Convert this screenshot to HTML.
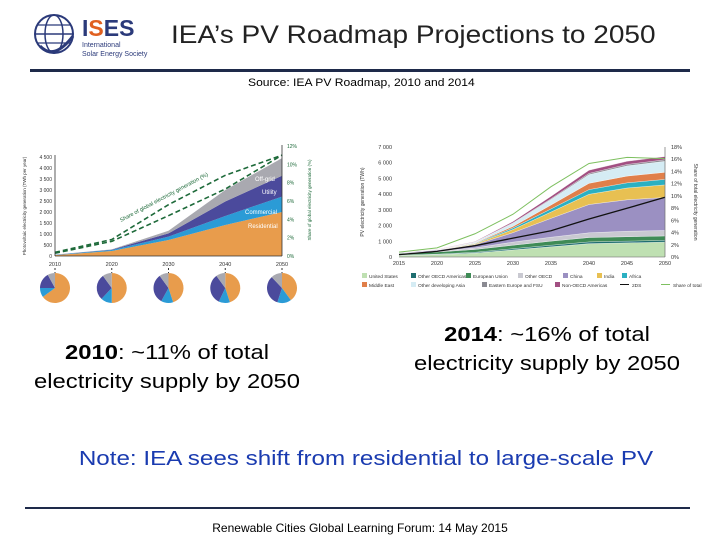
<!DOCTYPE html>
<html><head><meta charset="utf-8"><style>
body{margin:0;width:720px;height:540px;background:#fff;position:relative;overflow:hidden;font-family:"Liberation Sans",sans-serif}
.t{position:absolute;white-space:nowrap}
</style></head><body>
<svg width="150" height="60" style="position:absolute;left:28px;top:6px">
<circle cx="26" cy="28" r="19" fill="none" stroke="#2b3a7a" stroke-width="2"/>
<ellipse cx="26" cy="28" rx="9" ry="19" fill="none" stroke="#2b3a7a" stroke-width="1.5"/>
<line x1="7" y1="28" x2="45" y2="28" stroke="#2b3a7a" stroke-width="1.5"/>
<line x1="9" y1="19" x2="43" y2="19" stroke="#2b3a7a" stroke-width="1.2"/>
<line x1="9" y1="37" x2="43" y2="37" stroke="#2b3a7a" stroke-width="1.2"/>
<path d="M12 40 Q26 55 45 30" fill="none" stroke="#2b3a7a" stroke-width="3"/>
<text x="54" y="30" font-size="23" font-weight="bold" fill="#2b3a7a" font-family="Liberation Sans">I<tspan fill="#e06020">S</tspan>ES</text>
<text x="54" y="41" font-size="7" fill="#2b3a7a">International</text>
<text x="54" y="50" font-size="7" fill="#2b3a7a">Solar Energy Society</text>
</svg>
<div class="t" style="left:171px;top:21px;font-size:25px;color:#222;transform:scaleX(1.12);transform-origin:left">IEA’s PV Roadmap Projections to 2050</div>
<div style="position:absolute;left:30px;top:69px;width:660px;height:3px;background:#1e2a4a"></div>
<div class="t" style="left:248px;top:77px;font-size:11px;transform:scaleX(1.1);transform-origin:left">Source:  IEA PV Roadmap, 2010 and 2014</div>
<svg id="left" width="340" height="310" style="position:absolute;left:0;top:0"></svg>
<svg id="right" width="720" height="300" style="position:absolute;left:0;top:0"></svg>
<div class="t" style="left:0;width:334px;text-align:center;top:339px;font-size:20px;line-height:29px;transform:scaleX(1.19)"><b>2010</b>:  ~11% of total<br>electricity supply by 2050</div>
<div class="t" style="left:380px;width:334px;text-align:center;top:321px;font-size:20px;line-height:29px;transform:scaleX(1.19)"><b>2014</b>:  ~16% of total<br>electricity supply by 2050</div>
<div class="t" style="left:0;width:732px;text-align:center;top:448px;font-size:20px;color:#1a3bb0;transform:scaleX(1.21)">Note:  IEA sees shift from residential to large-scale PV</div>
<div style="position:absolute;left:25px;top:507px;width:665px;height:2px;background:#1e2a4a"></div>
<div class="t" style="left:0;width:720px;text-align:center;top:521px;font-size:12px">Renewable Cities Global Learning Forum:  14 May 2015</div>
<script>
const NS="http://www.w3.org/2000/svg";
function mk(p,tag,at,txt){const e=document.createElementNS(NS,tag);for(const k in at)e.setAttribute(k,at[k]);if(txt!==undefined)e.textContent=txt;p.appendChild(e);return e;}
// ---- left chart data ----
const lYears=[2010,2020,2030,2040,2050];
const lResidential=[40,230,730,1410,2000];
const lCommercial=[10,40,150,410,700];
const lUtility=[5,20,150,660,950];
const lOffgrid=[5,10,120,520,800];
const lShareUpper=[0.4,1.8,5.6,8.8,11];
const lShareLower=[0.3,1.6,4.4,7.3,11];
const lTicks=[0,500,1000,1500,2000,2500,3000,3500,4000,4500];
const lTickLabels=["0","500","1 000","1 500","2 000","2 500","3 000","3 500","4 000","4 500"];
const lRTicks=[0,2,4,6,8,10,12];
const pieYears=[2010,2020,2030,2040,2050];
const pieRes=[65,50,45,45,40];
const pieCom=[10,12,13,12,15];
const pieUtil=[17,28,32,33,33];
const pieOff=[8,10,10,10,12];
const L=document.getElementById('left');
const lx=y=>55+(y-2010)/40*227, ly=v=>256-v/4500*99, lyr=p=>256-p/12*110;
const lCols=["#e89c4c","#2b9bd6","#4b4a9c","#a9a9b0"], lNames=["residential","commercial","utility","off-grid"];
const lSer=[lResidential,lCommercial,lUtility,lOffgrid];
let base=lYears.map(()=>0);
lSer.forEach((s,i)=>{const top=base.map((b,j)=>b+s[j]);
 let d="M"+lYears.map((y,j)=>lx(y)+","+ly(top[j])).join("L")+"L"+lYears.slice().reverse().map((y,j)=>lx(y)+","+ly(base[lYears.length-1-j])).join("L")+"Z";
 const p=mk(L,"path",{d,fill:lCols[i]});
 
 
 base=top;});
[["Residential",248,228],["Commercial",245,214],["Utility",262,194],["Off-grid",255,181]].forEach(a=>{mk(L,"text",{x:a[1],y:a[2],"font-size":"6",fill:"#fff"},a[0]);});
[lShareUpper,lShareLower].forEach((s,i)=>{const p=mk(L,"polyline",{points:lYears.map((y,j)=>lx(y)+","+lyr(s[j])).join(" "),fill:"none",stroke:"#1e6a3a","stroke-width":"1.6","stroke-dasharray":"5,3"});
 
 });
mk(L,"line",{x1:55,y1:155,x2:55,y2:256,stroke:"#333","stroke-width":"0.8"});
mk(L,"line",{x1:282,y1:145,x2:282,y2:256,stroke:"#333","stroke-width":"0.8"});
mk(L,"line",{x1:55,y1:256,x2:282,y2:256,stroke:"#333","stroke-width":"0.8"});
lTicks.forEach((t,i)=>mk(L,"text",{x:52,y:ly(t)+2,"font-size":"5","text-anchor":"end",fill:"#333"},lTickLabels[i]));
lRTicks.forEach(t=>mk(L,"text",{x:287,y:lyr(t)+2,"font-size":"5",fill:"#1e6a3a"},t+"%"));
lYears.forEach(y=>{mk(L,"text",{x:lx(y),y:266,"font-size":"5.5","text-anchor":"middle",fill:"#333"},y);
 mk(L,"line",{x1:lx(y),y1:268,x2:lx(y),y2:273,stroke:"#333","stroke-dasharray":"2,2"});});
mk(L,"text",{transform:"translate(26,206) rotate(-90)","font-size":"4.5","text-anchor":"middle",fill:"#333"},"Photovoltaic electricity generation (TWh per year)");
mk(L,"text",{transform:"translate(311,200) rotate(-90)","font-size":"4.5","text-anchor":"middle",fill:"#1e6a3a"},"Share of global electricity generation (%)");
mk(L,"text",{transform:"translate(121,222) rotate(-28)","font-size":"5.5",fill:"#1e6a3a"},"Share of global electricity generation (%)");
pieYears.forEach((y,k)=>{const cx=lx(y),cy=288,r=15;const vals=[pieRes[k],pieCom[k],pieUtil[k],pieOff[k]];let a=-Math.PI/2;
 vals.forEach((v,i)=>{const a2=a+v/100*2*Math.PI;const big=(a2-a)>Math.PI?1:0;
  const p=mk(L,"path",{d:`M${cx},${cy}L${cx+r*Math.cos(a)},${cy+r*Math.sin(a)}A${r},${r} 0 ${big} 1 ${cx+r*Math.cos(a2)},${cy+r*Math.sin(a2)}Z`,fill:lCols[i]});
  
  
  a=a2;});});
// ---- right chart data ----
const rYears=[2015,2020,2025,2030,2035,2040,2045,2050];
const rUS=[100,150,250,450,650,850,900,950];
const rOtherOECDAm=[20,30,50,80,100,110,110,110];
const rEU=[100,140,180,220,260,280,280,280];
const rOtherOECD=[30,50,100,200,250,300,350,350];
const rChina=[30,70,200,600,1200,1800,2000,2100];
const rIndia=[5,10,50,200,400,650,750,800];
const rAfrica=[2,5,30,100,200,300,330,350];
const rMidEast=[2,5,30,100,250,400,430,450];
const rOtherAsia=[5,10,60,200,350,550,650,700];
const rEEurope=[1,2,10,30,50,80,90,100];
const rNonOECDAm=[5,10,30,80,150,200,200,200];
const r2DS=[150,360,720,1200,1670,2420,3100,3800];
const rShare=[0.8,1.5,3.8,7,11.5,15.3,16.3,16.1];
const rTicks=[0,1000,2000,3000,4000,5000,6000,7000];
const rTickLabels=["0","1 000","2 000","3 000","4 000","5 000","6 000","7 000"];
const rRTicks=[0,2,4,6,8,10,12,14,16,18];
const R=document.getElementById('right');
const rx=y=>399+(y-2015)/35*266, ry=v=>257-v/7000*110, ryr=p=>257-p/18*110;
const rSer=[rUS,rOtherOECDAm,rEU,rOtherOECD,rChina,rIndia,rAfrica,rMidEast,rOtherAsia,rEEurope,rNonOECDAm];
const rCols=["#bfe0b2","#1f6e70","#3f8b56","#c9c9d1","#9b90c2","#e8c052","#2bb0c2","#e07f4a","#d5ecf4","#8a8a92","#a25082"];
const rNames=["United States","Other OECD Americas","European Union","Other OECD","China","India","Africa","Middle East","Other developing Asia","Eastern Europe and FSU","Non-OECD Americas"];
base=rYears.map(()=>0);
rSer.forEach((s,i)=>{const top=base.map((b,j)=>b+s[j]);
 let d="M"+rYears.map((y,j)=>rx(y)+","+ry(top[j])).join("L")+"L"+rYears.slice().reverse().map((y,j)=>rx(y)+","+ry(base[rYears.length-1-j])).join("L")+"Z";
 const p=mk(R,"path",{d,fill:rCols[i],stroke:"#fff","stroke-width":"0.3"});
 
 
 base=top;});
let p2=mk(R,"polyline",{points:rYears.map((y,j)=>rx(y)+","+ry(r2DS[j])).join(" "),fill:"none",stroke:"#111","stroke-width":"1.3"});


let p3=mk(R,"polyline",{points:rYears.map((y,j)=>rx(y)+","+ryr(rShare[j])).join(" "),fill:"none",stroke:"#7ec060","stroke-width":"1"});


mk(R,"line",{x1:399,y1:257,x2:665,y2:257,stroke:"#555","stroke-width":"0.6"});
mk(R,"line",{x1:665,y1:147,x2:665,y2:257,stroke:"#555","stroke-width":"0.6"});
rTicks.forEach((t,i)=>mk(R,"text",{x:392,y:ry(t)+2,"font-size":"5.5","text-anchor":"end",fill:"#333"},rTickLabels[i]));
rRTicks.forEach(t=>mk(R,"text",{x:671,y:ryr(t)+2,"font-size":"5.5",fill:"#333"},t+"%"));
rYears.forEach(y=>mk(R,"text",{x:rx(y),y:265,"font-size":"5.5","text-anchor":"middle",fill:"#333"},y));
mk(R,"text",{transform:"translate(364,202) rotate(-90)","font-size":"5","text-anchor":"middle",fill:"#333"},"PV electricity generation (TWh)");
mk(R,"text",{transform:"translate(694,202) rotate(90)","font-size":"5","text-anchor":"middle",fill:"#333"},"Share of total electricity generation");
const legX=[[362,411,466,518,563,597,622],[362,411,482,555,632,673]];
const legItems=[[0,1,2,3,4,5,6],[7,8,9,10,"2DS","Share of total"]];
legItems.forEach((row,r)=>row.forEach((it,c)=>{const x=legX[r][c],y=277+r*9;
 if(typeof it==="number"){mk(R,"rect",{x,y:y-4,width:5,height:5,fill:rCols[it]});mk(R,"text",{x:x+7,y:y+1,"font-size":"4.8",fill:"#333"},rNames[it]);}
 else{mk(R,"line",{x1:x-12,y1:y-1.5,x2:x-3,y2:y-1.5,stroke:it==="2DS"?"#111":"#7ec060","stroke-width":"1"});mk(R,"text",{x:x,y:y+1,"font-size":"4.8",fill:"#333"},it);}
}));
</script>
</body></html>
